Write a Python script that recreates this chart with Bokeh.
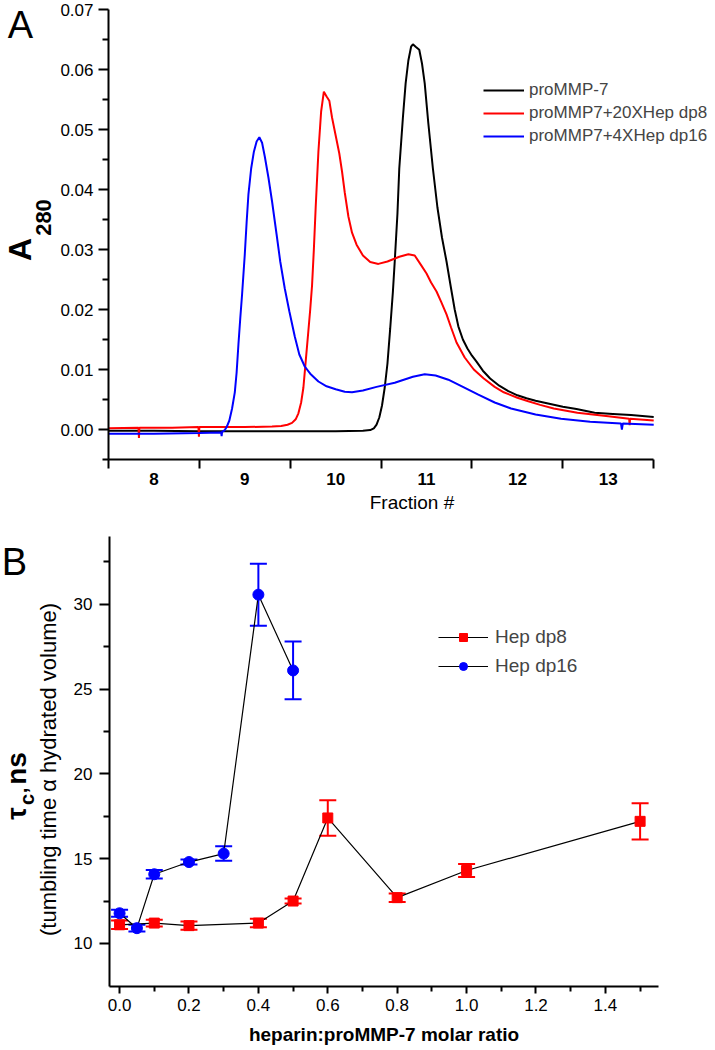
import math
from bokeh.plotting import figure
from bokeh.layouts import column, row
from bokeh.models import (Label, Range1d, FixedTicker, Whisker, TeeHead, ColumnDataSource,
                          Legend, LegendItem, NumeralTickFormatter)
from bokeh.embed import file_html
from bokeh.resources import INLINE

FONT = "Liberation Sans"

# ---------------- Panel A data (fraction #, A280) ----------------
frac_black = [7.5, 8.0, 8.5, 9.0, 9.5, 10.0, 10.3, 10.38, 10.42, 10.45, 10.48, 10.51, 10.54, 10.57,
              10.60, 10.63, 10.65, 10.68, 10.70, 10.74, 10.77, 10.80, 10.83, 10.85, 10.88, 10.92,
              10.95, 10.98, 11.02, 11.07, 11.12, 11.17, 11.22, 11.27, 11.31, 11.35, 11.40, 11.45,
              11.50, 11.55, 11.62, 11.70, 11.80, 11.90, 12.00, 12.10, 12.20, 12.35, 12.50, 12.65,
              12.85, 13.05, 13.25, 13.50]
a_black = [-0.0002, -0.0002, -0.0003, -0.0003, -0.0003, -0.0003, -0.0002, -0.0001, 0.0002, 0.0008,
           0.0020, 0.0040, 0.0070, 0.0110, 0.0168, 0.0230, 0.0280, 0.0360, 0.0435, 0.0520, 0.0577,
           0.0615, 0.0638, 0.0642, 0.0638, 0.0633, 0.0610, 0.0577, 0.0510, 0.0435, 0.0370, 0.0320,
           0.0280, 0.0235, 0.0200, 0.0172, 0.0150, 0.0135, 0.0123, 0.0113, 0.0098, 0.0085, 0.0073,
           0.0064, 0.0057, 0.0052, 0.0048, 0.0043, 0.0038, 0.0034, 0.0028, 0.0026, 0.0024, 0.0021]

frac_red = [7.5, 7.83, 7.835, 7.84, 8.2, 8.49, 8.495, 8.50, 9.0, 9.3, 9.40, 9.47, 9.52, 9.56, 9.59,
            9.62, 9.645, 9.67, 9.70, 9.72, 9.74, 9.76, 9.78, 9.81, 9.84, 9.87, 9.90, 9.93, 9.96,
            10.00, 10.04, 10.07, 10.10, 10.14, 10.18, 10.23, 10.30, 10.38, 10.47, 10.57, 10.70,
            10.80, 10.87, 10.94, 11.00, 11.05, 11.11, 11.16, 11.22, 11.27, 11.33, 11.42, 11.52,
            11.63, 11.75, 11.85, 12.00, 12.12, 12.25, 12.40, 12.66, 13.00, 13.23, 13.235, 13.24,
            13.50]
a_red = [0.0002, 0.0003, -0.0014, 0.0003, 0.0003, 0.0004, -0.0012, 0.0004, 0.0004, 0.0005, 0.0006,
         0.0008, 0.0011, 0.0017, 0.0027, 0.0045, 0.0070, 0.0113, 0.0165, 0.0200, 0.0240, 0.0300,
         0.0370, 0.0463, 0.0530, 0.0563, 0.0555, 0.0548, 0.0520, 0.0490, 0.0460, 0.0430, 0.0395,
         0.0355, 0.0328, 0.0308, 0.0290, 0.0279, 0.0276, 0.0280, 0.0288, 0.0292, 0.0290, 0.0274,
         0.0260, 0.0245, 0.0230, 0.0213, 0.0192, 0.0170, 0.0145, 0.0120, 0.0100, 0.0085, 0.0071,
         0.0062, 0.0053, 0.0047, 0.0041, 0.0035, 0.0028, 0.0022, 0.0018, 0.0007, 0.0018, 0.0015]

frac_blue = [7.5, 8.0, 8.5, 8.74, 8.745, 8.75, 8.78, 8.80, 8.83, 8.86, 8.89, 8.91, 8.93, 8.95, 8.97,
             9.00, 9.02, 9.04, 9.07, 9.10, 9.13, 9.16, 9.19, 9.22, 9.26, 9.30, 9.35, 9.39, 9.44,
             9.49, 9.55, 9.60, 9.66, 9.72, 9.81, 9.90, 10.0, 10.10, 10.18, 10.30, 10.45, 10.65,
             10.85, 10.98, 11.10, 11.24, 11.40, 11.57, 11.75, 11.93, 12.20, 12.48, 12.80, 13.14,
             13.15, 13.16, 13.50]
a_blue = [-0.0007, -0.0007, -0.0006, -0.0005, -0.0011, -0.0004, -0.0001, 0.0004, 0.0015, 0.0035,
          0.0062, 0.0095, 0.0142, 0.0185, 0.0225, 0.0292, 0.0345, 0.0392, 0.0435, 0.0463, 0.0480,
          0.0487, 0.0478, 0.0455, 0.0420, 0.0380, 0.0325, 0.0280, 0.0235, 0.0197, 0.0155, 0.0125,
          0.0105, 0.0093, 0.0080, 0.0072, 0.0067, 0.0063, 0.0062, 0.0065, 0.0071, 0.0078, 0.0088,
          0.0092, 0.0090, 0.0083, 0.0071, 0.0058, 0.0045, 0.0035, 0.0025, 0.0018, 0.0013, 0.0010,
          0.0000, 0.0010, 0.0008]

series_names_a = ["proMMP-7", "proMMP7+20XHep dp8", "proMMP7+4XHep dp16"]
fraction_ticks = [8, 9, 10, 11, 12, 13]
a280_ticks = [0.00, 0.01, 0.02, 0.03, 0.04, 0.05, 0.06, 0.07]

# ---------------- Panel B data ----------------
ratio_dp8 = [0.0, 0.1, 0.2, 0.4, 0.5, 0.6, 0.8, 1.0, 1.5]
tau_dp8 = [11.1, 11.2, 11.05, 11.2, 12.5, 17.4, 12.7, 14.3, 17.2]
err_dp8 = [0.25, 0.2, 0.25, 0.25, 0.15, 1.05, 0.25, 0.38, 1.07]
ratio_dp16 = [0.0, 0.05, 0.1, 0.2, 0.3, 0.4, 0.5]
tau_dp16 = [11.78, 10.9, 14.08, 14.8, 15.3, 30.57, 26.1]
err_dp16 = [0.2, 0.2, 0.25, 0.15, 0.43, 1.83, 1.7]
series_names_b = ["Hep dp8", "Hep dp16"]
ratio_ticks = [0.0, 0.2, 0.4, 0.6, 0.8, 1.0, 1.2, 1.4]
tau_ticks = [10, 15, 20, 25, 30]


def style_axes(p, tick_font="17px"):
    for ax in (p.xaxis[0], p.yaxis[0]):
        ax.axis_line_width = 2
        ax.axis_line_color = "black"
        ax.major_tick_line_width = 2
        ax.minor_tick_line_width = 2
        ax.major_tick_in = 0
        ax.minor_tick_in = 0
        ax.major_label_text_font = FONT
        ax.major_label_text_font_size = tick_font
        ax.major_label_text_color = "black"
        ax.axis_label_text_font = FONT
        ax.axis_label_text_font_style = "normal"
        ax.axis_label_text_color = "black"
    p.grid.visible = False
    p.outline_line_color = None


def side_fig(w, h, top, bottom):
    # the frame is aligned with the neighbouring plot's frame (top/bottom borders),
    # so map the y range such that data y == (figure height - canvas y)
    f = figure(width=w, height=h, output_backend="svg", toolbar_location=None,
               x_range=Range1d(0, w), y_range=Range1d(bottom, h - top),
               min_border_left=0, min_border_right=0, min_border_top=top,
               min_border_bottom=bottom, x_axis_location=None, y_axis_location=None)
    f.grid.visible = False
    f.outline_line_color = None
    return f


def add_label(f, x, y, txt, size, bold=False, rot=False):
    f.add_layout(Label(x=x, y=y, text=txt, text_font=FONT, text_font_size=size,
                       text_font_style="bold" if bold else "normal", text_color="black",
                       text_align="center", text_baseline="middle",
                       angle=math.pi / 2 if rot else 0))


# ================= Panel A =================
TOP_H = 520
A_TOP, A_BOT = 9, 61
LA_W = 57
PA_W = 715 - LA_W
PA_LEFT = 106 - LA_W
frame_w_a = PA_W - PA_LEFT
x_end_a = 7.5 + 6.0 * frame_w_a / 547.0   # frame runs past the axis so the legend fits

pa = figure(width=PA_W, height=TOP_H, output_backend="svg", toolbar_location=None,
            x_range=Range1d(7.5, x_end_a), y_range=Range1d(-0.005, 0.07),
            min_border_left=PA_LEFT, min_border_right=0, min_border_top=A_TOP,
            min_border_bottom=A_BOT)
style_axes(pa)

pa.xaxis.bounds = (7.5, 13.5)
pa.xaxis.ticker = FixedTicker(ticks=fraction_ticks,
                              minor_ticks=[t - 0.5 for t in fraction_ticks] + [fraction_ticks[-1] + 0.5])
pa.xaxis.major_tick_out = 9
pa.xaxis.major_tick_line_color = None
pa.xaxis.minor_tick_out = 9
pa.xaxis.major_label_standoff = 4
pa.xaxis.major_label_text_font_style = "bold"
pa.xaxis.axis_label = "Fraction #"
pa.xaxis.axis_label_text_font_size = "19px"
pa.xaxis.axis_label_standoff = 4

pa.yaxis.ticker = FixedTicker(ticks=a280_ticks,
                              minor_ticks=[t + 0.005 for t in a280_ticks[:-1]] + [-0.005])
pa.yaxis.formatter = NumeralTickFormatter(format="0.00")
pa.yaxis.major_tick_out = 10
pa.yaxis.minor_tick_out = 6
pa.yaxis.major_label_standoff = 5

rb = pa.line(frac_black, a_black, line_color="black", line_width=2)
rr = pa.line(frac_red, a_red, line_color="#ff0000", line_width=2)
rbl = pa.line(frac_blue, a_blue, line_color="#0000ff", line_width=2)

leg_a = Legend(items=[LegendItem(label=series_names_a[0], renderers=[rb]),
                      LegendItem(label=series_names_a[1], renderers=[rr]),
                      LegendItem(label=series_names_a[2], renderers=[rbl])],
               location=(375, 313))
leg_a.label_text_font = FONT
leg_a.label_text_font_size = "17px"
leg_a.glyph_width = 41
leg_a.glyph_height = 20
leg_a.label_height = 20
leg_a.spacing = 3
leg_a.padding = 0
leg_a.margin = 0
leg_a.label_standoff = 5
leg_a.border_line_color = None
leg_a.background_fill_alpha = 0
pa.add_layout(leg_a)

la = side_fig(LA_W, TOP_H, A_TOP, A_BOT)
add_label(la, 20, TOP_H - 24, "A", "38px")
add_label(la, 19, TOP_H - 249, "A", "32px", bold=True, rot=True)
add_label(la, 43, TOP_H - 217, "280", "22px", bold=True, rot=True)

# ================= Panel B =================
BOT_H = 1050 - TOP_H
B_TOP, B_BOT = 16, 64
LB_W = 62
PB_W = 715 - LB_W
PB_LEFT = 109 - LB_W
PB_RIGHT = PB_W - (658 - LB_W)

pb = figure(width=PB_W, height=BOT_H, output_backend="svg", toolbar_location=None,
            x_range=Range1d(-0.029, 1.553), y_range=Range1d(7.46, 34.0),
            min_border_left=PB_LEFT, min_border_right=PB_RIGHT, min_border_top=B_TOP,
            min_border_bottom=B_BOT)
style_axes(pb)

pb.xaxis.ticker = FixedTicker(ticks=ratio_ticks,
                              minor_ticks=[t + 0.1 for t in ratio_ticks])
pb.xaxis.formatter = NumeralTickFormatter(format="0.0")
pb.xaxis.major_tick_out = 7
pb.xaxis.minor_tick_out = 5
pb.xaxis.major_label_standoff = 5
pb.xaxis.axis_label = "heparin:proMMP-7 molar ratio"
pb.xaxis.axis_label_text_font_size = "19px"
pb.xaxis.axis_label_text_font_style = "bold"
pb.xaxis.axis_label_standoff = 10

pb.yaxis.ticker = FixedTicker(ticks=tau_ticks, minor_ticks=[t + 2.5 for t in tau_ticks])
pb.yaxis.formatter = NumeralTickFormatter(format="0")
pb.yaxis.major_tick_out = 10
pb.yaxis.minor_tick_out = 6
pb.yaxis.major_label_standoff = 7

src8 = ColumnDataSource(dict(x=ratio_dp8, y=tau_dp8,
                             lo=[v - e for v, e in zip(tau_dp8, err_dp8)],
                             hi=[v + e for v, e in zip(tau_dp8, err_dp8)]))
src16 = ColumnDataSource(dict(x=ratio_dp16, y=tau_dp16,
                              lo=[v - e for v, e in zip(tau_dp16, err_dp16)],
                              hi=[v + e for v, e in zip(tau_dp16, err_dp16)]))

for src, col in ((src8, "#ff0000"), (src16, "#0000ff")):
    w = Whisker(base="x", lower="lo", upper="hi", source=src, line_color=col, line_width=2,
                upper_head=TeeHead(size=17, line_color=col, line_width=2),
                lower_head=TeeHead(size=17, line_color=col, line_width=2))
    pb.add_layout(w)

l8 = pb.line("x", "y", source=src8, line_color="black", line_width=1.2)
l16 = pb.line("x", "y", source=src16, line_color="black", line_width=1.2)
s8 = pb.scatter("x", "y", source=src8, marker="square", size=10, fill_color="#ff0000",
                line_color="#ff0000")
s16 = pb.scatter("x", "y", source=src16, marker="circle", size=11, fill_color="#0000ff",
                 line_color="#0000ff")

leg_b = Legend(items=[LegendItem(label=series_names_b[0], renderers=[l8, s8]),
                      LegendItem(label=series_names_b[1], renderers=[l16, s16])],
               location=(329, 309))
leg_b.label_text_font = FONT
leg_b.label_text_font_size = "19px"
leg_b.glyph_width = 50
leg_b.glyph_height = 20
leg_b.label_height = 20
leg_b.spacing = 7
leg_b.padding = 0
leg_b.margin = 0
leg_b.label_standoff = 7
leg_b.border_line_color = None
leg_b.background_fill_alpha = 0
pb.add_layout(leg_b)

lb = side_fig(LB_W, BOT_H, B_TOP, B_BOT)
add_label(lb, 14, 1050 - 561.5, "B", "38px")
add_label(lb, 16, 1050 - 813, "τ", "28px", bold=True, rot=True)
add_label(lb, 26, 1050 - 799, "c", "20px", bold=True, rot=True)
add_label(lb, 19, 1050 - 790, ",", "20px", bold=True, rot=True)
add_label(lb, 16, 1050 - 768, "ns", "28px", bold=True, rot=True)
add_label(lb, 48, 1050 - 769, "(tumbling time α hydrated volume)", "22px", rot=True)

layout = column(row(la, pa, spacing=0), row(lb, pb, spacing=0), spacing=0)
open("out.html", "w").write(file_html(layout, INLINE))
